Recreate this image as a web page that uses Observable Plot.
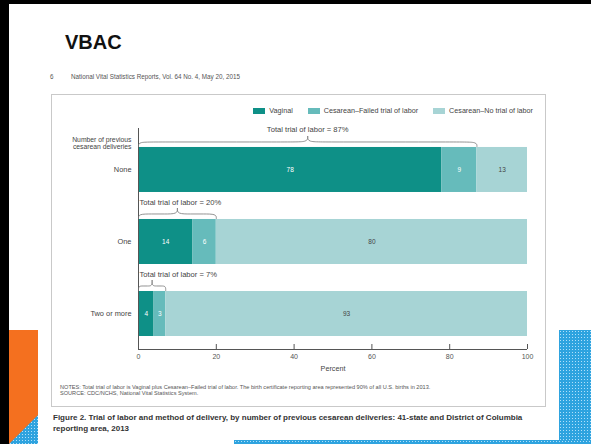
<!DOCTYPE html>
<html>
<head>
<meta charset="utf-8">
<script src="https://cdn.jsdelivr.net/npm/d3@7"></script>
<script src="https://cdn.jsdelivr.net/npm/@observablehq/plot@0.6"></script>
<style>
  body { margin: 0; background: #fff; }
  #slide { position: relative; width: 591px; height: 444px; overflow: hidden; background: #fff;
           font-family: "Liberation Sans", Arial, sans-serif; }
  .abs { position: absolute; }
  .dots { background-color: #2ea3df;
          background-image: radial-gradient(circle, rgba(200,235,255,0.85) 0.7px, transparent 0.9px);
          background-size: 3px 3px; }
  #panel { left: 51px; top: 94px; width: 493px; height: 311px; border: 1px solid #c9c9c9; }
  #legend { right: 58px; top: 106px; display: flex; align-items: center; font-size: 7.2px; color: #444; white-space: nowrap; }
  #legend .item { display: flex; align-items: center; margin-left: 15px; }
  #legend .sw { width: 12px; height: 6px; margin-right: 4px; }
  #notes { left: 60px; top: 384px; font-size: 5.6px; line-height: 6px; color: #555; white-space: nowrap; }
  #caption { left: 53px; top: 413px; font-size: 8px; font-weight: bold; line-height: 10.5px; color: #333; width: 500px; }
</style>
</head>
<body>
<div id="slide">
  <div class="abs" style="left:0;top:0;width:591px;height:4px;background:#000"></div>
  <div class="abs" style="left:0;top:0;width:9px;height:444px;background:#000"></div>
  <div class="abs" style="left:9px;top:330px;width:29px;height:114px;background:#f4701f"></div>
  <div class="abs dots" style="left:9px;top:415px;width:29px;height:29px;clip-path:polygon(0 100%,100% 0,100% 100%)"></div>
  <div class="abs dots" style="left:559px;top:330px;width:32px;height:114px"></div>
  <div class="abs dots" style="left:234px;top:440px;width:357px;height:4px"></div>

  <div class="abs" style="left:65px;top:31px;font-size:20px;font-weight:bold;color:#111">VBAC</div>
  <div class="abs" style="left:50px;top:73px;font-size:6.3px;color:#555">6</div>
  <div class="abs" style="left:71px;top:73px;font-size:6.3px;color:#555">National Vital Statistics Reports, Vol. 64 No. 4, May 20, 2015</div>

  <div id="panel" class="abs"></div>
  <div id="legend" class="abs"></div>
  <div id="notes" class="abs">NOTES: Total trial of labor is Vaginal plus Cesarean–Failed trial of labor. The birth certificate reporting area represented 90% of all U.S. births in 2013.<br>SOURCE: CDC/NCHS, National Vital Statistics System.</div>
  <div id="caption" class="abs">Figure 2. Trial of labor and method of delivery, by number of previous cesarean deliveries: 41-state and District of Columbia reporting area, 2013</div>
</div>
<script>
// ---- data ----
const categories = ["None", "One", "Two or more"];
const methods = ["Vaginal", "Cesarean–Failed trial of labor", "Cesarean–No trial of labor"];
const vaginal = [78, 14, 4];
const failedTrial = [9, 6, 3];
const noTrial = [13, 80, 93];
const xTicks = [0, 20, 40, 60, 80, 100];
const yTitle = "Number of previous\ncesarean deliveries";
const colors = ["#0e9087", "#66bbbb", "#a7d4d5"];

// ---- derived tables ----
const series = [vaginal, failedTrial, noTrial];
const rows = [];
categories.forEach((cat, i) => {
  let acc = 0;
  series.forEach((s, j) => {
    rows.push({cat, i, j, method: methods[j], value: s[i], x1: acc, x2: acc + s[i]});
    acc += s[i];
  });
});
const totals = categories.map((cat, i) => ({cat, i, total: vaginal[i] + failedTrial[i]}));

const barHalf = 0.3125;           // half bar thickness in band units
const px = 1 / 72;                // one pixel in band units
const braces = [];
totals.forEach(({i, total}) => {
  const top = i - barHalf;
  const yE = top - 1 * px, yF = top - 5.5 * px, yC = top - 11 * px;
  const xm = total / 2, r = Math.min(4, total / 6);
  [[0, 1], [total, -1]].forEach(([x0, s]) => {
    [[x0, yE], [x0, yF], [x0 + s * r, yF], [xm - s * r, yF], [xm, yF], [xm, yC]]
      .forEach(([x, y]) => braces.push({key: i + (s > 0 ? "L" : "R"), x, y}));
  });
});

// ---- legend ----
const legend = document.getElementById("legend");
methods.forEach((m, j) => {
  const it = document.createElement("div");
  it.className = "item";
  it.innerHTML = `<span class="sw" style="background:${colors[j]}"></span><span>${m}</span>`;
  legend.appendChild(it);
});

// ---- chart ----
const yDomain = [2.493, -0.576];
const axisColor = "#555";
const chart = Plot.plot({
  width: 498,
  height: 294,
  marginLeft: 91,
  marginRight: 18,
  marginTop: 34,
  marginBottom: 39,
  style: {fontFamily: "'Liberation Sans', Arial, sans-serif", fontSize: "7px", color: "#444", background: "transparent"},
  x: {domain: [0, 100]},
  y: {domain: yDomain},
  color: {type: "identity"},
  marks: [
    Plot.rect(rows, {x1: "x1", x2: "x2", y1: d => d.i - barHalf, y2: d => d.i + barHalf, fill: d => colors[d.j]}),
    Plot.text(rows.filter(d => d.j < 2), {x: d => (d.x1 + d.x2) / 2, y: "i", text: d => String(d.value), fill: "#ffffff", fontSize: 6.5}),
    Plot.text(rows.filter(d => d.j === 2), {x: d => (d.x1 + d.x2) / 2, y: "i", text: d => String(d.value), fill: "#444", fontSize: 6.5}),
    Plot.ruleX([0], {stroke: axisColor}),
    Plot.ruleY([yDomain[0]], {stroke: axisColor}),
    Plot.ruleX(xTicks, {stroke: axisColor, insetTop: 216}),
    Plot.axisX(xTicks, {tickSize: 0, tickPadding: 5, label: null, fontSize: 7, fill: "#555"}),
    Plot.axisY([0, 1, 2], {tickFormat: i => categories[i], tickSize: 0, tickPadding: 7, label: null, fontSize: 7.4, fill: "#444"}),
    Plot.line(braces, {x: "x", y: "y", z: "key", curve: "basis", stroke: "#777", strokeWidth: 0.8}),
    Plot.text(totals.filter(d => d.total >= 50), {x: d => d.total / 2, y: d => d.i - barHalf - 18 * px, text: d => `Total trial of labor = ${d.total}%`, textAnchor: "middle", fill: "#444", fontSize: 7.6}),
    Plot.text(totals.filter(d => d.total < 50), {x: 0, y: d => d.i - barHalf - 17 * px, text: d => `Total trial of labor = ${d.total}%`, textAnchor: "start", dx: 1, fill: "#444", fontSize: 7.6}),
    Plot.text([yTitle], {frameAnchor: "top-left", dx: -7, dy: 8.5, textAnchor: "end", fontSize: 6.8, lineHeight: 1.0, fill: "#444"}),
    Plot.text(["Percent"], {frameAnchor: "bottom", dy: 21, fill: "#444", fontSize: 7.2})
  ]
});
chart.style.position = "absolute";
chart.style.left = "47px";
chart.style.top = "94px";
document.getElementById("slide").appendChild(chart);
</script>
</body>
</html>
